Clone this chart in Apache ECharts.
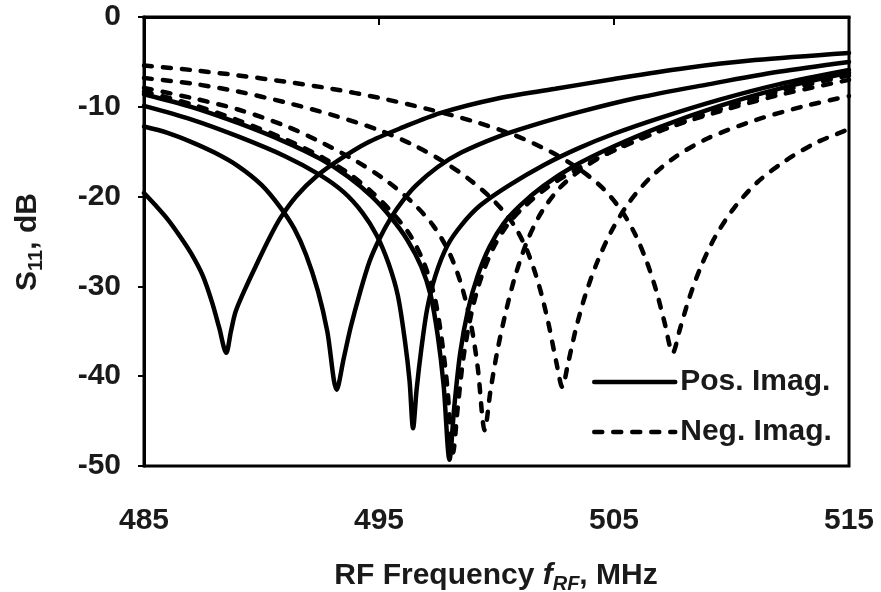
<!DOCTYPE html>
<html><head><meta charset="utf-8">
<script src="https://cdn.jsdelivr.net/npm/echarts@6/dist/echarts.min.js"></script>
<style>html,body{margin:0;padding:0;background:#fff}#c{width:881px;height:592px}</style>
</head><body><div id="c"></div>
<script>
// Axis ticks
const xTicks = [485, 495, 505, 515];
const yTicks = [0, -10, -20, -30, -40, -50];

// Pos. Imag. (solid) curves
const fPos1 = [485, 485.5, 486, 486.5, 487, 487.5, 487.9, 488.2, 488.5, 488.7, 488.9, 489.3, 489.8, 490.3, 490.8, 491.5, 492.4, 493.3, 494.5, 496, 497.6, 500, 502.5, 505, 508, 511, 515];
const dbPos1 = [-19.6, -21.0, -22.5, -24.3, -26.3, -28.8, -31.8, -34.6, -37.4, -35.0, -32.8, -30.3, -27.5, -24.8, -22.4, -19.9, -17.6, -15.9, -14.0, -12.3, -10.7, -9.1, -8.0, -6.9, -5.7, -4.8, -4.0];

const fPos2 = [485, 486, 487, 488, 489, 490, 490.8, 491.4, 491.9, 492.4, 492.8, 493.2, 493.5, 493.8, 494.2, 494.6, 495.0, 495.5, 496.0, 496.6, 497.5, 498.5, 500, 501.5, 503.5, 506, 509, 512, 515];
const dbPos2 = [-12.2, -12.9, -13.9, -15.1, -16.6, -18.7, -21.2, -23.6, -26.5, -30.5, -35.0, -41.5, -38.0, -34.5, -30.6, -27.2, -24.8, -22.4, -20.5, -18.7, -16.7, -15.1, -13.4, -12.1, -10.6, -9.0, -7.5, -6.1, -5.0];

const fPos3 = [485, 487, 489, 491, 492.5, 493.5, 494.3, 494.9, 495.4, 495.8, 496.1, 496.3, 496.45, 496.6, 496.8, 497.05, 497.4, 497.9, 498.5, 499.3, 500.5, 502, 503.5, 505, 507, 509.5, 512, 515];
const dbPos3 = [-9.9, -11.4, -13.3, -15.5, -17.6, -19.5, -21.8, -24.3, -27.4, -31.0, -36.0, -40.5, -45.8, -41.5, -37.0, -32.5, -28.8, -25.5, -23.2, -21.0, -18.8, -16.5, -14.6, -13.0, -11.2, -9.2, -7.5, -5.9];

const fPos4 = [485, 487, 489, 491, 492.5, 493.7, 494.7, 495.5, 496.2, 496.8, 497.2, 497.5, 497.75, 498.0, 498.2, 498.45, 498.8, 499.2, 499.7, 500.3, 501, 502, 503.3, 505, 507, 509.5, 512, 515];
const dbPos4 = [-8.6, -10.0, -11.8, -13.9, -15.8, -17.8, -20.0, -22.3, -24.8, -27.8, -31.0, -35.5, -41.0, -49.3, -43.5, -37.5, -32.5, -28.8, -25.6, -23.0, -21.0, -18.8, -16.6, -14.4, -12.2, -9.9, -8.0, -6.2];

// Neg. Imag. (dashed) curves
const fNeg1 = [485, 487, 489, 491, 492.5, 493.7, 494.7, 495.5, 496.3, 496.9, 497.35, 497.65, 497.9, 498.15, 498.35, 498.6, 498.95, 499.35, 499.85, 500.45, 501.15, 502.15, 503.45, 505.15, 507.15, 509.6, 512, 515];
const dbNeg1 = [-8.3, -9.7, -11.5, -13.6, -15.5, -17.4, -19.5, -21.6, -24.2, -27.3, -31.0, -35.5, -41.0, -48.5, -43.5, -37.8, -32.8, -29.0, -25.8, -23.2, -21.2, -19.0, -16.9, -14.7, -12.5, -10.2, -8.3, -6.5];

const fNeg2 = [485, 487, 489, 491, 492.5, 494, 495.3, 496.4, 497.3, 498.0, 498.5, 498.9, 499.2, 499.5, 499.75, 500.05, 500.4, 500.8, 501.3, 501.9, 502.7, 503.7, 505, 507, 509.5, 512, 515];
const dbNeg2 = [-7.9, -9.0, -10.3, -12.1, -13.9, -16.0, -18.2, -20.6, -23.2, -26.3, -29.8, -34.0, -39.0, -46.0, -41.5, -37.0, -32.8, -28.8, -25.0, -21.8, -19.0, -16.8, -14.8, -12.6, -10.5, -8.7, -7.0];

const fNeg3 = [485, 487, 489, 491, 493, 495, 496.5, 497.8, 498.9, 499.9, 500.7, 501.3, 501.8, 502.2, 502.55, 502.8, 503.05, 503.4, 503.8, 504.3, 504.9, 505.6, 506.5, 507.6, 509, 511, 513, 515];
const dbNeg3 = [-6.8, -7.4, -8.3, -9.5, -10.9, -12.6, -14.3, -16.2, -18.2, -20.5, -23.0, -26.0, -29.8, -34.0, -38.5, -41.2, -38.5, -34.5, -30.8, -27.2, -23.8, -20.8, -18.0, -15.6, -13.5, -11.5, -10.0, -8.8];

const fNeg4 = [485, 487, 489, 491, 493, 495, 497, 499, 500.8, 502.3, 503.5, 504.5, 505.3, 505.9, 506.4, 506.8, 507.15, 507.5, 507.8, 508.2, 508.7, 509.3, 510.1, 511.1, 512.3, 513.6, 515];
const dbNeg4 = [-5.4, -5.9, -6.5, -7.2, -8.0, -9.0, -10.2, -11.6, -13.2, -15.0, -16.9, -19.0, -21.5, -24.2, -27.3, -30.5, -34.0, -37.4, -34.8, -31.3, -27.8, -24.5, -21.3, -18.4, -16.0, -14.0, -12.5];

const posCurves = [[fPos1, dbPos1], [fPos2, dbPos2], [fPos3, dbPos3], [fPos4, dbPos4]];
const negCurves = [[fNeg1, dbNeg1], [fNeg2, dbNeg2], [fNeg3, dbNeg3], [fNeg4, dbNeg4]];

const FAMILY = '"Liberation Sans", Arial, Helvetica, sans-serif';
const INK = '#1a1a1a';
const FS = 30;
const zip = (xs, ys) => xs.map((x, i) => [x, ys[i]]);

const series = [];
negCurves.forEach(([f, d]) => series.push({
  type: 'line', name: 'Neg. Imag.', data: zip(f, d), symbol: 'none', showSymbol: false,
  smooth: 0.3, clip: true, itemStyle: { color: '#000' },
  lineStyle: { color: '#000', width: 4.5, type: [8, 11], cap: 'round' }
}));
posCurves.forEach(([f, d]) => series.push({
  type: 'line', name: 'Pos. Imag.', data: zip(f, d), symbol: 'none', showSymbol: false,
  smooth: 0.3, clip: true, itemStyle: { color: '#000' },
  lineStyle: { color: '#000', width: 4.5, type: 'solid', cap: 'round' }
}));

// Axis titles as rich pieces (measured, so subscripts sit right)
const mctx = document.createElement('canvas').getContext('2d');
function buildTitle(pieces) {
  let x = 0;
  const items = pieces.map(p => {
    mctx.font = (p.italic ? 'italic ' : '') + 'bold ' + p.size + 'px ' + FAMILY;
    const w = mctx.measureText(p.t).width;
    const el = { x: x, t: p.t, size: p.size, italic: p.italic, dy: p.dy || 0 };
    x += w;
    return el;
  });
  const W = x;
  return items.map(it => ({
    type: 'text', x: it.x - W / 2, y: it.dy,
    style: { text: it.t, fontSize: it.size, fontWeight: 'bold', fontStyle: it.italic ? 'italic' : 'normal',
      fontFamily: FAMILY, fill: INK, align: 'left', verticalAlign: 'middle' }
  }));
}
const xTitle = buildTitle([
  { t: 'RF Frequency ', size: FS },
  { t: 'f', size: FS, italic: true },
  { t: 'RF', size: 20, italic: true, dy: 8 },
  { t: ', MHz', size: FS }
]);
const yTitle = buildTitle([
  { t: 'S', size: FS },
  { t: '11', size: 20, dy: 8 },
  { t: ', dB', size: FS }
]);

const chart = echarts.init(document.getElementById('c'), null, { renderer: 'canvas' });
chart.setOption({
  animation: false,
  backgroundColor: '#fff',
  grid: { left: 144, right: 32, top: 17, bottom: 126, outerBoundsMode: 'none', containLabel: false,
    show: true, borderColor: '#000', borderWidth: 3, backgroundColor: 'transparent' },
  legend: {
    orient: 'vertical', left: 592, top: 367, padding: 0, itemWidth: 81, itemHeight: 30, itemGap: 20,
    data: ['Pos. Imag.', 'Neg. Imag.'],
    itemStyle: { opacity: 0 },
    lineStyle: { width: 4.5 },
    textStyle: { fontFamily: FAMILY, fontSize: FS, fontWeight: 'bold', color: INK, lineHeight: 30 }
  },
  xAxis: [{
    type: 'value', min: xTicks[0], max: xTicks[xTicks.length - 1], interval: 10, position: 'bottom',
    axisLine: { show: true, lineStyle: { color: '#000', width: 3 } },
    axisTick: { show: false }, splitLine: { show: false },
    axisLabel: { margin: 40, fontFamily: FAMILY, fontSize: FS, fontWeight: 'bold', color: INK }
  }, {
    type: 'value', min: xTicks[0], max: xTicks[xTicks.length - 1], interval: 10, position: 'top',
    axisLine: { show: true, lineStyle: { color: '#000', width: 3 } },
    axisTick: { show: true, inside: true, length: 8, lineStyle: { color: '#000', width: 2 } },
    axisLabel: { show: false }, splitLine: { show: false }
  }],
  yAxis: {
    type: 'value', min: yTicks[yTicks.length - 1], max: yTicks[0], interval: 10,
    axisLine: { show: true, lineStyle: { color: '#000', width: 3 } },
    axisTick: { show: true, length: 6, lineStyle: { color: '#000', width: 2 } },
    splitLine: { show: false },
    axisLabel: { margin: 23, fontFamily: FAMILY, fontSize: FS, fontWeight: 'bold', color: INK }
  },
  graphic: [
    { type: 'group', x: 496, y: 576, children: xTitle },
    { type: 'group', x: 28, y: 242, rotation: Math.PI / 2, children: yTitle }
  ],
  series: series
});
</script>
</body></html>
